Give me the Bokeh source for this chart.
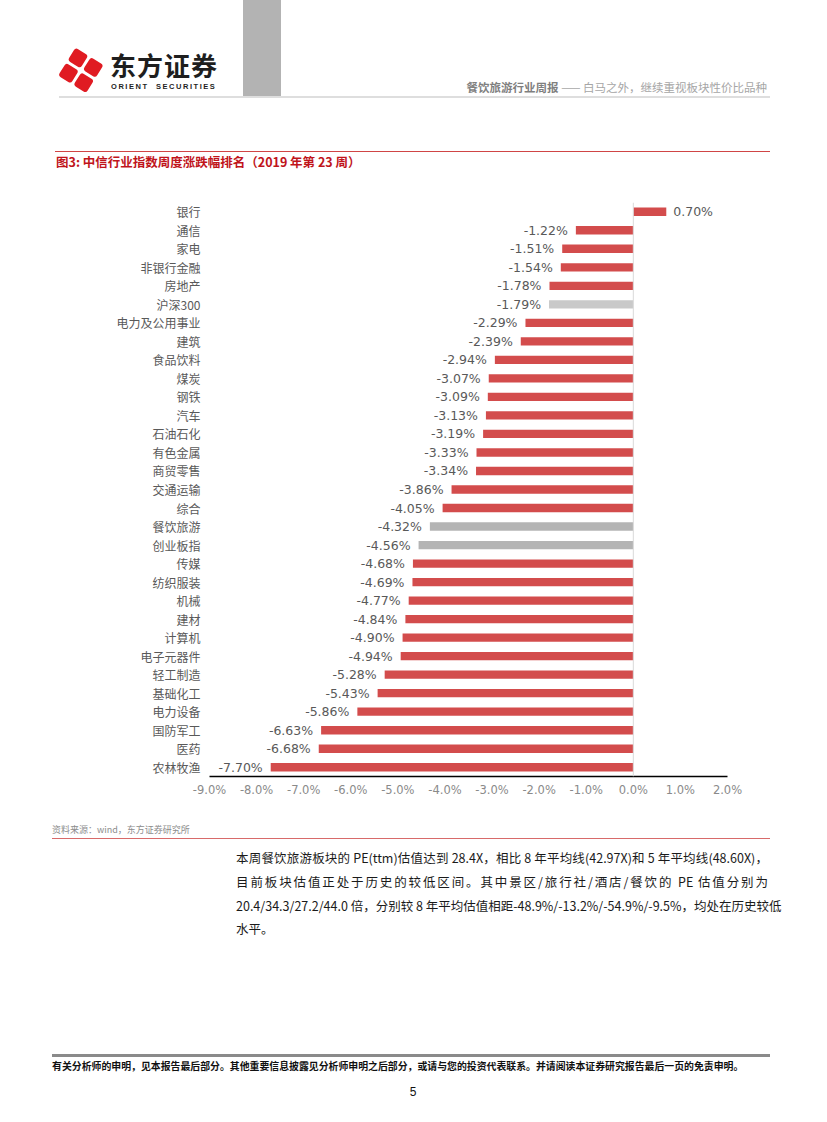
from bokeh.plotting import figure
from bokeh.models import ColumnDataSource, FactorRange, Range1d, Span, Div, FixedTicker, CustomJSTickFormatter
from bokeh.layouts import column
from bokeh.core.properties import value
from bokeh.embed import file_html
from bokeh.resources import INLINE

# ---------------- data ----------------
categories = ["银行", "通信", "家电", "非银行金融", "房地产", "沪深300", "电力及公用事业", "建筑",
              "食品饮料", "煤炭", "钢铁", "汽车", "石油石化", "有色金属", "商贸零售", "交通运输",
              "综合", "餐饮旅游", "创业板指", "传媒", "纺织服装", "机械", "建材", "计算机",
              "电子元器件", "轻工制造", "基础化工", "电力设备", "国防军工", "医药", "农林牧渔"]
changes = [0.70, -1.22, -1.51, -1.54, -1.78, -1.79, -2.29, -2.39, -2.94, -3.07, -3.09, -3.13,
           -3.19, -3.33, -3.34, -3.86, -4.05, -4.32, -4.56, -4.68, -4.69, -4.77, -4.84, -4.90,
           -4.94, -5.28, -5.43, -5.86, -6.63, -6.68, -7.70]
index_names = ["沪深300"]
focus_names = ["餐饮旅游", "创业板指"]
x_ticks = [-9, -8, -7, -6, -5, -4, -3, -2, -1, 0, 1, 2]

RED = "#d34c4c"
LIGHT_GREY = "#c9c9c9"
GREY = "#b4b4b4"

colors = []
for c in categories:
    if c in index_names:
        colors.append(LIGHT_GREY)
    elif c in focus_names:
        colors.append(GREY)
    else:
        colors.append(RED)

src = ColumnDataSource(dict(
    cat=categories,
    val=changes,
    color=colors,
    label=["%.2f%%" % v for v in changes],
    align=["left" if v >= 0 else "right" for v in changes],
    xoff=[7 if v >= 0 else -8 for v in changes],
))

# ---------------- chart ----------------
p = figure(width=811, height=615,
           y_range=FactorRange(factors=categories[::-1], range_padding=0),
           x_range=Range1d(x_ticks[0], x_ticks[-1]),
           output_backend="svg", toolbar_location=None,
           min_border_left=201, min_border_right=92, min_border_top=7, min_border_bottom=34)
p.margin = 0
p.outline_line_color = None
p.xgrid.visible = False
p.ygrid.visible = False
p.background_fill_color = "white"
p.border_fill_color = "white"

p.add_layout(Span(location=0, dimension="height", line_color="#d9d9d9", line_width=1))

p.hbar(y="cat", left=0, right="val", height=0.45, fill_color="color", line_color=None, source=src)
p.text(x="val", y="cat", text="label", text_align="align", x_offset="xoff",
       text_baseline="middle", text_font=value("DejaVu Sans"), text_font_size="12.5px",
       text_color="#595959", source=src)

xa = p.xaxis[0]
xa.ticker = FixedTicker(ticks=x_ticks)
xa.formatter = CustomJSTickFormatter(code="return tick.toFixed(1) + '%';")
xa.axis_line_color = "black"
xa.axis_line_width = 1.5
xa.major_tick_line_color = None
xa.minor_tick_line_color = None
xa.major_label_text_font = "DejaVu Sans"
xa.major_label_text_font_size = "11.5px"
xa.major_label_text_color = "#8a8a8a"
xa.major_label_standoff = 0

ya = p.yaxis[0]
ya.axis_line_color = None
ya.major_tick_line_color = None
ya.minor_tick_line_color = None
ya.major_label_text_font = "Noto Sans CJK SC"
ya.major_label_text_font_size = "12px"
ya.major_label_text_color = "#595959"
ya.major_label_standoff = 3

# ---------------- header ----------------
tile = "position:absolute;width:15px;height:15px;background:#e01b22;border-radius:3px;"
header_html = f"""
<div style="position:relative;width:811px;height:187px;font-family:'Noto Sans CJK SC',sans-serif;">
  <div style="position:absolute;left:235px;top:-8px;width:38px;height:97px;background:#b3b3b3;"></div>
  <div style="position:absolute;left:55px;top:45px;width:36px;height:36px;transform:rotate(32deg);">
    <div style="{tile}left:1px;top:1px;"></div>
    <div style="{tile}left:19px;top:1px;"></div>
    <div style="{tile}left:1px;top:19px;"></div>
    <div style="{tile}left:19px;top:19px;"></div>
  </div>
  <div style="position:absolute;left:102px;top:44px;font-size:26px;font-weight:bold;line-height:1;color:#1e1e1e;letter-spacing:1px;white-space:nowrap;">东方证券</div>
  <div style="position:absolute;left:103px;top:75px;font-family:'Liberation Sans',sans-serif;font-size:7.5px;font-weight:bold;line-height:1;color:#1e1e1e;letter-spacing:1.55px;white-space:nowrap;">ORIENT&nbsp;&nbsp;SECURITIES</div>
  <div style="position:absolute;right:52px;top:74px;font-size:11.5px;line-height:1;white-space:nowrap;color:#a6a6a6;"><span style="font-weight:bold;color:#7f7f7f;">餐饮旅游行业周报</span> —— 白马之外，继续重视板块性价比品种</div>
  <div style="position:absolute;left:51px;top:88px;width:711px;height:2px;background:#dedede;"></div>
  <div style="position:absolute;left:47px;top:143px;width:715px;height:1px;background:#d04545;"></div>
  <div style="position:absolute;left:48px;top:148px;font-size:12.5px;font-weight:bold;line-height:1;color:#c0141b;white-space:nowrap;">图3: 中信行业指数周度涨跌幅排名（2019 年第 23 周）</div>
</div>
"""
header = Div(text=header_html, width=811, height=187, margin=0)

# ---------------- footer ----------------
line = "position:absolute;left:228px;width:532px;font-size:12.5px;line-height:1;color:#1a1a1a;white-space:nowrap;text-align:justify;text-align-last:justify;"
footer_html = f"""
<div style="position:relative;width:811px;height:302px;font-family:'Noto Sans CJK SC',sans-serif;">
  <div style="position:absolute;left:44px;top:15px;font-size:9px;line-height:1;color:#8c8c8c;white-space:nowrap;">资料来源：wind，东方证券研究所</div>
  <div style="position:absolute;left:44px;top:28px;width:718px;height:1px;background:#d86a6a;"></div>
  <div style="{line}top:42px;">本周餐饮旅游板块的 PE(ttm)估值达到 28.4X，相比 8 年平均线(42.97X)和 5 年平均线(48.60X)，</div>
  <div style="{line}top:66px;">目前板块估值正处于历史的较低区间。其中景区/旅行社/酒店/餐饮的 PE 估值分别为</div>
  <div style="{line}top:90px;">20.4/34.3/27.2/44.0 倍，分别较 8 年平均估值相距-48.9%/-13.2%/-54.9%/-9.5%，均处在历史较低</div>
  <div style="position:absolute;left:228px;top:113px;font-size:12.5px;line-height:1;color:#1a1a1a;white-space:nowrap;">水平。</div>
  <div style="position:absolute;left:44px;top:244px;width:718px;height:3px;background:#8a8a8a;"></div>
  <div style="position:absolute;left:44px;top:252px;font-size:9.9px;font-weight:bold;line-height:1;color:#111;white-space:nowrap;">有关分析师的申明，见本报告最后部分。其他重要信息披露见分析师申明之后部分，或请与您的投资代表联系。并请阅读本证券研究报告最后一页的免责申明。</div>
  <div style="position:absolute;left:400px;top:276px;width:10px;text-align:center;font-family:'Liberation Sans',sans-serif;font-size:12px;line-height:1;color:#111;">5</div>
</div>
"""
footer = Div(text=footer_html, width=811, height=302, margin=0)

layout = column(header, p, footer, spacing=0, margin=(8, 0, 0, 8))
open("out.html", "w").write(file_html(layout, INLINE))
